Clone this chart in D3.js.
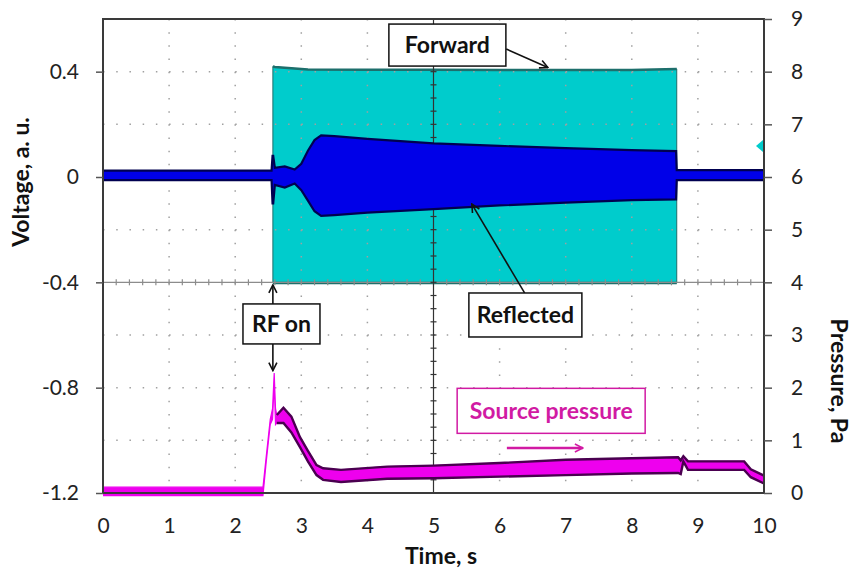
<!DOCTYPE html>
<html>
<head>
  <title>RF on: forward, reflected and source pressure</title>
  <script src="https://cdn.jsdelivr.net/npm/d3@7"></script>
  <style>
    html, body {
      background: #fff;
      margin: 0;
    }

    svg {
      font-family: Lato, "Open Sans", sans-serif;
    }

    .tick text {
      fill: #222;
      font-size: 21px;
    }

    .axis-title {
      fill: #111;
      font-size: 23px;
      font-weight: bold;
    }

    .note rect {
      fill: #fff;
      stroke: #111;
      stroke-width: 1.5px;
    }

    .note text {
      fill: #111;
      font-size: 23px;
      font-weight: bold;
    }
  </style>
</head>
<body>

  <svg id="chart" width="853" height="571"></svg>

  <script>
  (function () {

  // axis ticks
  var timeTicks = [0, 1, 2, 3, 4, 5, 6, 7, 8, 9, 10],
      voltageTicks = [0.4, 0, -0.4, -0.8, -1.2],
      pressureTicks = [0, 1, 2, 3, 4, 5, 6, 7, 8, 9];

  // forward signal envelope (voltage, a. u.)
  var forwardTime  = [2.57, 2.6, 2.8, 3.1, 4, 5, 6, 7, 8, 8.68],
      forwardUpper = [0.42, 0.418, 0.414, 0.408, 0.407, 0.407, 0.406, 0.406, 0.406, 0.41],
      forwardLower = [-0.403, -0.403, -0.403, -0.403, -0.403, -0.403, -0.403, -0.403, -0.403, -0.403];

  // reflected signal envelope (voltage, a. u.)
  var reflectedTime  = [0, 2.55, 2.565, 2.575, 2.6, 2.75, 2.9, 3.0, 3.1, 3.2, 3.3, 3.5, 4, 5, 6, 7, 8, 8.67, 8.68, 10],
      reflectedUpper = [0.024, 0.024, 0.08, 0.08, 0.035, 0.04, 0.028, 0.05, 0.1, 0.14, 0.158, 0.155, 0.145, 0.128, 0.118, 0.11, 0.102, 0.098, 0.026, 0.026],
      reflectedLower = [-0.012, -0.012, -0.1, -0.1, -0.03, -0.04, -0.025, -0.05, -0.09, -0.13, -0.148, -0.145, -0.135, -0.122, -0.108, -0.097, -0.088, -0.085, -0.012, -0.012];

  // source pressure envelope (Pa)
  var pressureTime  = [0, 2.42, 2.47, 2.53, 2.565, 2.59, 2.61, 2.63, 2.73, 2.85, 2.98, 3.1, 3.23, 3.33, 3.6, 4.3, 5, 6, 7, 8, 8.7, 8.74, 8.78, 8.85, 9.7, 9.8, 10],
      pressureUpper = [0.11, 0.11, 0.7, 1.4, 1.6, 2.28, 1.6, 1.48, 1.62, 1.45, 1.06, 0.8, 0.53, 0.47, 0.44, 0.5, 0.52, 0.57, 0.63, 0.66, 0.68, 0.62, 0.7, 0.6, 0.6, 0.45, 0.33],
      pressureLower = [-0.05, -0.05, 0.6, 1.3, 1.4, 2.1, 1.3, 1.33, 1.33, 1.15, 0.87, 0.6, 0.34, 0.25, 0.21, 0.27, 0.28, 0.31, 0.34, 0.37, 0.38, 0.36, 0.6, 0.44, 0.44, 0.3, 0.18];

  var svg = d3.select("#chart");

  var x = d3.scaleLinear().domain([0, 10]).range([103, 764]),
      yV = d3.scaleLinear().domain([-1.2, 0.6]).range([493, 19]),
      yP = d3.scaleLinear().domain([0, 9]).range([493, 19]);

  function rows(t, hi, lo) {
    return t.map(function (d, i) { return { t: d, hi: hi[i], lo: lo[i] }; });
  }

  var forward = rows(forwardTime, forwardUpper, forwardLower),
      reflected = rows(reflectedTime, reflectedUpper, reflectedLower),
      pressure = rows(pressureTime, pressureUpper, pressureLower);

  var defs = svg.append("defs");
  defs.append("clipPath").attr("id", "plot-clip")
    .append("rect")
      .attr("x", x(0)).attr("y", yP(9))
      .attr("width", x(10) - x(0)).attr("height", yP(0) - yP(9) + 4);

  function arrowMarker(id, color) {
    defs.append("marker")
        .attr("id", id)
        .attr("viewBox", "0 0 10 10")
        .attr("refX", 9).attr("refY", 5)
        .attr("markerWidth", 10).attr("markerHeight", 10)
        .attr("markerUnits", "userSpaceOnUse")
        .attr("orient", "auto")
      .append("path")
        .attr("d", "M1,1 L9,5 L1,9")
        .attr("fill", "none")
        .attr("stroke", color)
        .attr("stroke-width", 1.6);
  }
  arrowMarker("arrow-black", "#111");
  arrowMarker("arrow-pink", "#d11aa3");

  var plot = svg.append("g").attr("clip-path", "url(#plot-clip)");

  function band(y) {
    return d3.area()
        .x(function (d) { return x(d.t); })
        .y0(function (d) { return y(d.lo); })
        .y1(function (d) { return y(d.hi); });
  }

  function edge(y, key, from) {
    return d3.line()
        .defined(function (d) { return d.t >= (from || 0); })
        .x(function (d) { return x(d.t); })
        .y(function (d) { return y(d[key]); });
  }

  // forward (cyan)
  plot.append("path").datum(forward)
      .attr("d", band(yV))
      .attr("fill", "#00cccc")
      .attr("stroke", "#1d6f6c")
      .attr("stroke-width", 1);
  ["hi", "lo"].forEach(function (k) {
    plot.append("path").datum(forward)
        .attr("d", edge(yV, k))
        .attr("fill", "none")
        .attr("stroke", "#1d6f6c")
        .attr("stroke-width", 2.5);
  });

  // dotted grid
  var grid = plot.append("g");
  grid.selectAll("line.gx")
    .data(timeTicks.filter(function (d) { return d > 0 && d < 10 && d !== 5; }))
    .enter().append("line")
      .attr("x1", x).attr("x2", x)
      .attr("y1", yP(9)).attr("y2", yP(0))
      .attr("stroke", "#a0a0a0")
      .attr("stroke-width", 1.5)
      .attr("stroke-dasharray", "1.5," + ((yP(0) - yP(1)) / 4 - 1.5));
  grid.selectAll("line.gy")
    .data(pressureTicks.filter(function (d) { return d > 0 && d !== 4; }))
    .enter().append("line")
      .attr("x1", x(0)).attr("x2", x(10))
      .attr("y1", yP).attr("y2", yP)
      .attr("stroke", "#a0a0a0")
      .attr("stroke-width", 1.5)
      .attr("stroke-dasharray", "1.5," + ((x(1) - x(0)) / 5 - 1.5));

  // scope centre lines with minor ticks
  grid.append("line")
      .attr("x1", x(0)).attr("x2", x(10))
      .attr("y1", yP(4)).attr("y2", yP(4))
      .attr("stroke", "#8c8c8c").attr("stroke-width", 1.2);
  grid.selectAll("line.mx")
    .data(d3.range(1, 50))
    .enter().append("line")
      .attr("x1", function (d) { return x(d / 5); })
      .attr("x2", function (d) { return x(d / 5); })
      .attr("y1", yP(4) - 3).attr("y2", yP(4) + 3)
      .attr("stroke", "#8c8c8c").attr("stroke-width", 1.2);
  grid.append("line")
      .attr("x1", x(5)).attr("x2", x(5))
      .attr("y1", yP(9)).attr("y2", yP(0))
      .attr("stroke", "#333").attr("stroke-width", 1.2);
  grid.selectAll("line.my")
    .data(d3.range(1, 36))
    .enter().append("line")
      .attr("x1", x(5) - 3).attr("x2", x(5) + 3)
      .attr("y1", function (d) { return yP(d / 4); })
      .attr("y2", function (d) { return yP(d / 4); })
      .attr("stroke", "#333").attr("stroke-width", 1.2);

  // reflected (blue)
  plot.append("path").datum(reflected)
      .attr("d", band(yV))
      .attr("fill", "#0000e8");
  ["hi", "lo"].forEach(function (k) {
    plot.append("path").datum(reflected)
        .attr("d", edge(yV, k))
        .attr("fill", "none")
        .attr("stroke", "#000050")
        .attr("stroke-width", 2.2);
  });

  // source pressure (magenta)
  plot.append("path").datum(pressure)
      .attr("d", band(yP))
      .attr("fill", "#ee00ee")
      .attr("stroke", "#ee00ee")
      .attr("stroke-width", 1.2);
  ["hi", "lo"].forEach(function (k) {
    plot.append("path").datum(pressure)
        .attr("d", edge(yP, k, 2.62))
        .attr("fill", "none")
        .attr("stroke", "#4a0050")
        .attr("stroke-width", 2.4);
  });

  // channel marker at right edge
  plot.append("path")
      .attr("transform", "translate(" + (x(10) - 4) + "," + yV(0.118) + ")")
      .attr("d", "M-4,0 L3,-6 L3,6 Z")
      .attr("fill", "#00cccc");

  // frame
  svg.append("rect")
      .attr("x", x(0)).attr("y", yP(9))
      .attr("width", x(10) - x(0)).attr("height", yP(0) - yP(9))
      .attr("fill", "none")
      .attr("stroke", "#3a3a3a")
      .attr("stroke-width", 2);

  // axes
  var left = svg.append("g")
      .attr("transform", "translate(" + x(0) + ",0)")
      .call(d3.axisLeft(yV).tickValues(voltageTicks).tickSize(7).tickPadding(17).tickFormat(String));
  var right = svg.append("g")
      .attr("transform", "translate(" + x(10) + ",0)")
      .call(d3.axisRight(yP).tickValues(pressureTicks).tickSize(8).tickPadding(19).tickFormat(String));
  var bottom = svg.append("g")
      .attr("transform", "translate(0," + yP(0) + ")")
      .call(d3.axisBottom(x).tickValues(timeTicks).tickSize(0).tickPadding(25).tickFormat(String));
  [left, right, bottom].forEach(function (a) {
    a.attr("font-family", null).attr("font-size", null);
    a.select(".domain").remove();
    a.selectAll(".tick line").attr("stroke", "#555").attr("stroke-width", 1.5);
  });

  // axis titles
  svg.append("text").attr("class", "axis-title")
      .attr("transform", "translate(29,182) rotate(-90)")
      .attr("text-anchor", "middle")
      .text("Voltage, a. u.");
  svg.append("text").attr("class", "axis-title")
      .attr("transform", "translate(831,381) rotate(90)")
      .attr("text-anchor", "middle")
      .text("Pressure, Pa");
  svg.append("text").attr("class", "axis-title")
      .attr("x", 441).attr("y", 564)
      .attr("text-anchor", "middle")
      .text("Time, s");

  // annotations (centre in data coords, box size in px)
  function note(t, v, w, h, label, color) {
    var g = svg.append("g").attr("class", "note")
        .attr("transform", "translate(" + x(t) + "," + yV(v) + ")");
    g.append("rect")
        .attr("x", -w / 2).attr("y", -h / 2)
        .attr("width", w).attr("height", h)
        .style("stroke", color || null);
    g.append("text")
        .attr("text-anchor", "middle")
        .attr("dy", "0.36em")
        .style("fill", color || null)
        .text(label);
  }

  function pointer(t0, v0, t1, v1, marker, color) {
    svg.append("line")
        .attr("x1", x(t0)).attr("y1", yV(v0))
        .attr("x2", x(t1)).attr("y2", yV(v1))
        .attr("stroke", color || "#111")
        .attr("stroke-width", color ? 2.5 : 1.6)
        .attr("marker-end", "url(#" + marker + ")");
  }

  pointer(6.10, 0.486, 6.73, 0.416, "arrow-black");
  note(5.21, 0.501, 117, 42, "Forward");

  pointer(6.38, -0.441, 5.58, -0.103, "arrow-black");
  note(6.39, -0.524, 113, 44, "Reflected");

  pointer(2.57, -0.482, 2.57, -0.41, "arrow-black");
  pointer(2.57, -0.634, 2.57, -0.735, "arrow-black");
  note(2.70, -0.558, 77, 40, "RF on");

  pointer(6.11, -1.029, 7.26, -1.029, "arrow-pink", "#d11aa3");
  note(6.78, -0.888, 188, 45, "Source pressure", "#d11aa3");

  })();
  </script>
</body>
</html>
